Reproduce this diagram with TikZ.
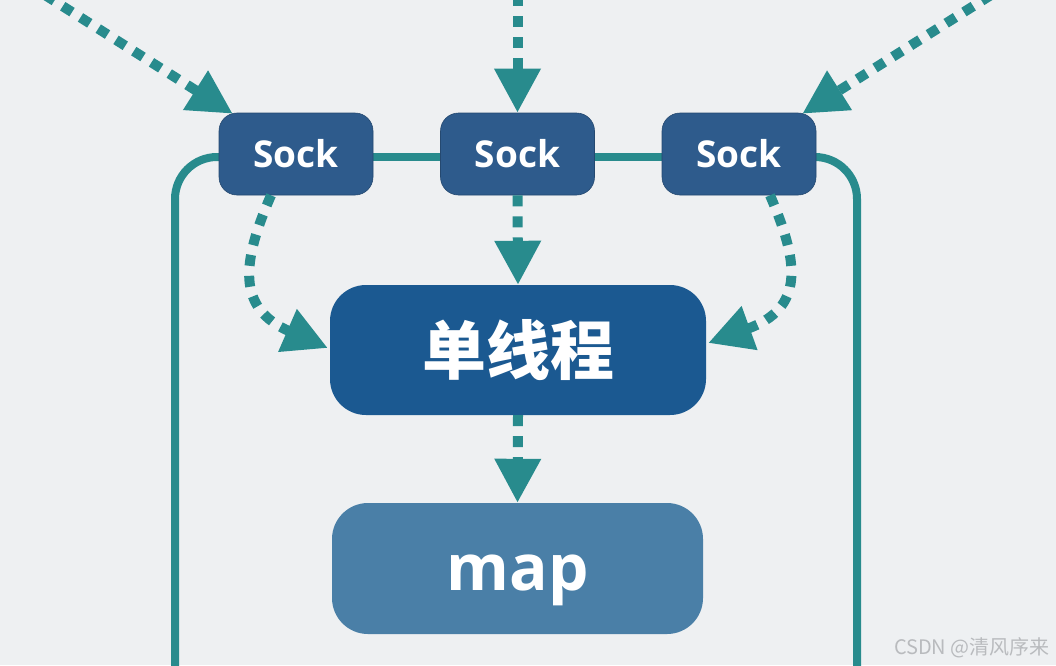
\documentclass[tikz,border=0pt]{standalone}
\usepackage{fontspec}
\setmainfont{Open Sans}
\newfontfamily\cjk{Noto Sans CJK SC}
\usetikzlibrary{arrows.meta}
\definecolor{bgcol}{RGB}{238,240,242}
\definecolor{teal1}{RGB}{40,139,141}
\definecolor{sockcol}{RGB}{46,91,140}
\definecolor{maincol}{RGB}{27,89,145}
\definecolor{mapcol}{RGB}{74,127,167}
\definecolor{wmcol}{RGB}{185,187,190}
\pgfdeclarelayer{bg}
\pgfdeclarelayer{lines}
\pgfsetlayers{bg,lines,main}
\tikzset{
  sockbox/.style={fill=sockcol, draw=sockcol!80!black, line width=0.6pt, rounded corners=18pt,
    minimum width=154pt, minimum height=82pt, inner sep=0pt, text=white,
    font=\fontsize{37}{37}\selectfont\bfseries},
  bigbox/.style={rounded corners=36pt, minimum width=376pt, minimum height=130pt,
    inner sep=0pt, text=white},
  dotarrow/.style={teal1, line width=10pt, dash pattern=on 11pt off 10pt,
    -{Triangle[length=44pt,width=44pt]}},
  solidline/.style={teal1, line width=8pt}
}
\begin{document}
\begin{tikzpicture}[x=1pt,y=-1pt]
\begin{pgfonlayer}{bg}
\fill[bgcol] (0,0) rectangle (1056,665);
\end{pgfonlayer}
\useasboundingbox (0,0) rectangle (1056,665);

\node[sockbox] (s1) at (296,154) {Sock};
\node[sockbox] (s2) at (517.5,154) {Sock};
\node[sockbox] (s3) at (739,154) {Sock};
\node[bigbox, fill=maincol, font=\cjk\fontsize{64}{64}\selectfont\bfseries] (c) at (518,350) {单线程};
\node[bigbox, fill=mapcol, minimum width=371pt, minimum height=131pt, text height=44pt, text depth=0pt,
  font=\fontsize{64}{64}\selectfont\bfseries] (m) at (517.5,568.5) {map};

\coordinate (t1) at (45,-5);
\coordinate (t2) at (517.5,-5);
\coordinate (t3) at (991,-5);
\coordinate (b1) at (175,680);
\coordinate (b2) at (857,680);

\begin{pgfonlayer}{lines}
\draw[solidline] ([yshift=-3pt]s1.east) -- ([yshift=-3pt]s2.west);
\draw[solidline] ([yshift=-3pt]s2.east) -- ([yshift=-3pt]s3.west);
\draw[solidline, rounded corners=42pt] ([yshift=-3pt,xshift=2pt]s1.west) -| (b1);
\draw[solidline, rounded corners=42pt] ([yshift=-3pt,xshift=-2pt]s3.east) -| (b2);
\end{pgfonlayer}

\draw[dotarrow] (t1) -- ([xshift=14pt,yshift=-1pt]s1.north west);
\draw[dotarrow] (t2) -- (s2.north);
\draw[dotarrow] (t3) -- ([xshift=-14pt,yshift=-1pt]s3.north east);
\draw[dotarrow] (s2.south) -- (c.north);
\draw[dotarrow] ([xshift=-25pt]s1.south) .. controls (242,262) and (236,308) .. ([xshift=-2pt,yshift=2pt]c.west);
\draw[dotarrow] ([xshift=31pt]s3.south) .. controls (799,262) and (805,308) .. ([xshift=2pt,yshift=7pt]c.east);
\draw[dotarrow] (c.south) -- (m.north);

\node[text=wmcol, font=\cjk\fontsize{20}{20}\selectfont, anchor=east, inner sep=0pt] (wm) at (1050,648) {CSDN @清风序来};
\end{tikzpicture}
\end{document}
